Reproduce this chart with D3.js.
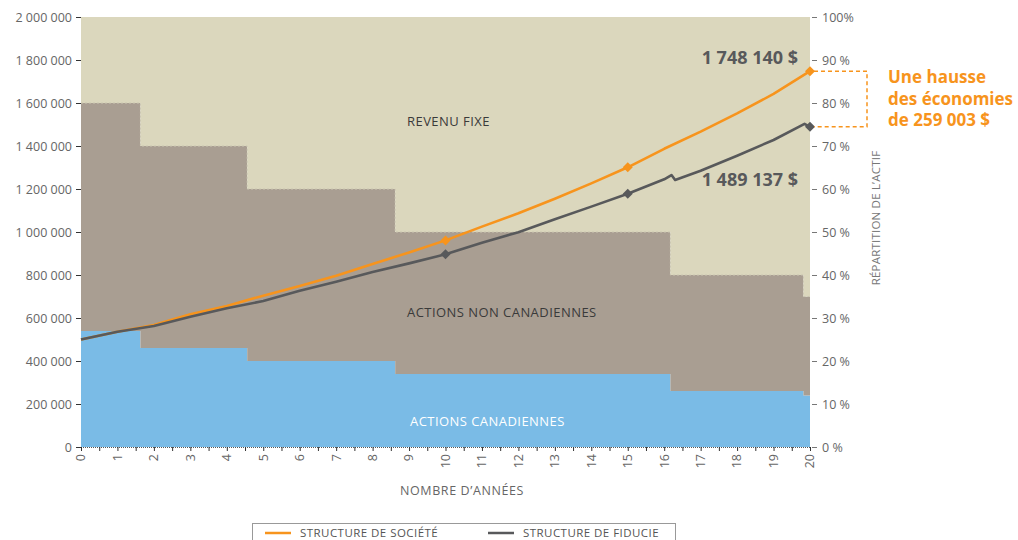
<!DOCTYPE html>
<html>
<head>
<meta charset="utf-8">
<script src="https://cdn.jsdelivr.net/npm/d3@7/dist/d3.min.js"></script>
<style>
  body { margin: 0; background: #fff; }
  svg { font-family: "Open Sans", sans-serif; display: block; }
</style>
</head>
<body>
<svg width="1018" height="540"></svg>
<script>
// asset mix steps (share of portfolio, %)
const stepStart = [0, 1.63, 4.56, 8.62, 16.17, 19.82];
const canadianPct = [27, 23, 20, 17, 13, 12];
const nonCanadianPct = [53, 47, 40, 33, 27, 23];
const fixedIncomePct = [20, 30, 40, 50, 60, 65];
const areaNames = ['ACTIONS CANADIENNES', 'ACTIONS NON CANADIENNES', 'REVENU FIXE'];

// portfolio value by year, [year, $]
const societe = [
  [0, 500000], [1, 536000], [2, 567000], [3, 617000], [4, 656000], [5, 704000],
  [6, 749000], [7, 797000], [8, 851000], [9, 905000], [10, 961000], [11, 1025000],
  [12, 1087000], [13, 1155000], [14, 1226000], [15, 1301000], [16, 1387000],
  [17, 1467000], [18, 1552000], [19, 1642000], [20, 1748140]
];
const fiducie = [
  [0, 500000], [1, 536000], [2, 563000], [3, 606000], [4, 645000], [5, 679000],
  [6, 727000], [7, 769000], [8, 814000], [9, 854000], [10, 896000], [11, 950000],
  [12, 999000], [13, 1059000], [14, 1118000], [15, 1178000], [16, 1245000],
  [16.2, 1265000], [16.3, 1242000], [17, 1285000], [18, 1355000], [19, 1428000],
  [19.85, 1503000], [20, 1489137]
];
const markerYears = [10, 15, 20];

const leftTickValues = [0, 200000, 400000, 600000, 800000, 1000000, 1200000, 1400000, 1600000, 1800000, 2000000];
const leftTickLabels = ['0', '200 000', '400 000', '600 000', '800 000', '1 000 000', '1 200 000', '1 400 000', '1 600 000', '1 800 000', '2 000 000'];
const rightTickValues = [0, 10, 20, 30, 40, 50, 60, 70, 80, 90, 100];
const rightTickLabels = ['0 %', '10 %', '20 %', '30 %', '40 %', '50 %', '60 %', '70 %', '80 %', '90 %', '100%'];
const xTickYears = [0, 1, 2, 3, 4, 5, 6, 7, 8, 9, 10, 11, 12, 13, 14, 15, 16, 17, 18, 19, 20];

const endLabels = ['1 748 140 $', '1 489 137 $'];
const noteLines = ['Une hausse', 'des économies', 'de 259 003 $'];
const legendNames = ['STRUCTURE DE SOCIÉTÉ', 'STRUCTURE DE FIDUCIE'];

const orange = '#f7941d';
const grey = '#58595b';
const areaColors = ['#7abbe6', '#a99e92', '#dbd7bd'];

const svg = d3.select('svg');
const plotL = 81, plotR = 810, plotT = 17, plotB = 447;

const x = d3.scaleLinear().domain([0, 20]).range([plotL, plotR]);
const yVal = d3.scaleLinear().domain([0, 2000000]).range([plotB, plotT]);
const yPct = d3.scaleLinear().domain([0, 100]).range([plotB, plotT]);

/* stacked allocation areas */
const rows = stepStart.map((s, i) => ({
  x: s, can: canadianPct[i], non: nonCanadianPct[i], fix: fixedIncomePct[i]
}));
const last = rows[rows.length - 1];
rows.push(Object.assign({}, last, { x: 20 }));

const stack = d3.stack().keys(['can', 'non', 'fix']);
const series = stack(rows);

const area = d3.area()
    .curve(d3.curveStepAfter)
    .x(d => x(d.data.x))
    .y0(d => yPct(d[0]))
    .y1(d => yPct(d[1]));

svg.append('g')
  .selectAll('path')
  .data(series)
  .enter().append('path')
    .attr('fill', (d, i) => areaColors[i])
    .attr('d', area);

// faint dotted edge on top of the middle band
svg.append('path')
    .datum(series[1])
    .attr('fill', 'none')
    .attr('stroke', '#cbc6b1')
    .attr('stroke-width', 1)
    .attr('stroke-dasharray', '2,2')
    .attr('d', d3.line().curve(d3.curveStepAfter).x(d => x(d.data.x)).y(d => yPct(d[1])));

/* area labels */
const areaLabelPos = [[410, 426, '#fff'], [407, 317, '#3a3a3a'], [407, 126, '#3a3a3a']];
svg.append('g')
  .selectAll('text')
  .data(areaNames)
  .enter().append('text')
    .attr('x', (d, i) => areaLabelPos[i][0])
    .attr('y', (d, i) => areaLabelPos[i][1])
    .attr('fill', (d, i) => areaLabelPos[i][2])
    .attr('font-size', 13)
    .attr('letter-spacing', 0.45)
    .text(d => d);

/* axes */
const gl = svg.append('g')
    .attr('transform', `translate(${plotL},0)`)
    .call(d3.axisLeft(yVal).tickValues(leftTickValues).tickSize(5).tickPadding(4)
      .tickFormat((d, i) => leftTickLabels[i]));
gl.select('.domain').remove();
gl.selectAll('line').attr('stroke', '#333');
gl.selectAll('text').attr('fill', '#666').attr('font-size', 12.5).attr('font-family', '"Open Sans", sans-serif');

const gr = svg.append('g')
    .attr('transform', `translate(${plotR + 2},0)`)
    .call(d3.axisRight(yPct).tickValues(rightTickValues).tickSize(5).tickPadding(5)
      .tickFormat((d, i) => rightTickLabels[i]));
gr.select('.domain').remove();
gr.selectAll('line').attr('stroke', '#777');
gr.selectAll('text').attr('fill', '#666').attr('font-size', 12.5).attr('font-family', '"Open Sans", sans-serif');

// bottom axis: dotted baseline, half-year ticks, rotated year labels
svg.append('line')
    .attr('x1', plotL).attr('x2', plotR)
    .attr('y1', plotB + 0.5).attr('y2', plotB + 0.5)
    .attr('stroke', '#555').attr('stroke-dasharray', '1,1');

const gx = svg.append('g')
    .attr('transform', `translate(0,${plotB})`)
    .call(d3.axisBottom(x).tickValues(d3.range(0, 20.01, 0.5)).tickSize(4).tickFormat(''));
gx.select('.domain').remove();
gx.selectAll('line').attr('stroke', '#333');

svg.append('g')
  .selectAll('text')
  .data(xTickYears)
  .enter().append('text')
    .attr('transform', d => `translate(${x(d)},${plotB + 7}) rotate(-90)`)
    .attr('text-anchor', 'end')
    .attr('dy', '0.35em')
    .attr('fill', '#666')
    .attr('font-size', 12.5)
    .text(d => d);

svg.append('text')
    .attr('x', 462).attr('y', 495)
    .attr('text-anchor', 'middle')
    .attr('fill', '#666')
    .attr('font-size', 12.5)
    .attr('letter-spacing', 0.6)
    .text('NOMBRE D’ANNÉES');

svg.append('text')
    .attr('transform', 'translate(880,218) rotate(-90)')
    .attr('text-anchor', 'middle')
    .attr('fill', '#777')
    .attr('font-size', 11.5)
    .attr('letter-spacing', 0.2)
    .text('RÉPARTITION DE L’ACTIF');

/* value lines */
const line = d3.line().x(d => x(d[0])).y(d => yVal(d[1]));
[[societe, orange], [fiducie, grey]].forEach(([data, col]) => {
  svg.append('path')
      .datum(data)
      .attr('fill', 'none')
      .attr('stroke', col)
      .attr('stroke-width', 2.6)
      .attr('stroke-linejoin', 'round')
      .attr('d', line);
  svg.append('g')
    .selectAll('path')
    .data(data.filter(d => markerYears.includes(d[0])))
    .enter().append('path')
      .attr('transform', d => `translate(${x(d[0])},${yVal(d[1])})`)
      .attr('d', d3.symbol().type(d3.symbolDiamond2).size(64))
      .attr('fill', col);
});

/* end value labels */
const endVals = [societe[societe.length - 1][1], fiducie[fiducie.length - 1][1]];
svg.append('text')
    .attr('x', 798).attr('y', yVal(endVals[0]) - 7)
    .attr('text-anchor', 'end')
    .attr('fill', '#58595b')
    .attr('font-size', 18).attr('font-weight', 'bold')
    .text(endLabels[0]);
svg.append('text')
    .attr('x', 798).attr('y', yVal(endVals[1]) + 59)
    .attr('text-anchor', 'end')
    .attr('fill', '#58595b')
    .attr('font-size', 18).attr('font-weight', 'bold')
    .text(endLabels[1]);

/* difference bracket and note */
const y1 = yVal(endVals[0]), y2 = yVal(endVals[1]);
svg.append('path')
    .attr('d', `M${plotR + 4},${y1}H867V${y2}H${plotR + 4}`)
    .attr('fill', 'none')
    .attr('stroke', orange)
    .attr('stroke-width', 1.5)
    .attr('stroke-dasharray', '4,3');

svg.append('g')
  .selectAll('text')
  .data(noteLines)
  .enter().append('text')
    .attr('x', 888)
    .attr('y', (d, i) => 83 + i * 21.5)
    .attr('fill', orange)
    .attr('font-size', 17).attr('font-weight', 'bold')
    .text(d => d);

/* legend */
const lg = svg.append('g');
lg.append('rect')
    .attr('x', 252.5).attr('y', 523.5)
    .attr('width', 423).attr('height', 30)
    .attr('fill', 'none').attr('stroke', '#999');
const legendX = [265, 488];
[orange, grey].forEach((col, i) => {
  lg.append('line')
      .attr('x1', legendX[i]).attr('x2', legendX[i] + 26)
      .attr('y1', 533).attr('y2', 533)
      .attr('stroke', col).attr('stroke-width', 2.5);
  lg.append('text')
      .attr('x', legendX[i] + 35).attr('y', 537)
      .attr('fill', '#555')
      .attr('font-size', 11.5)
      .attr('letter-spacing', 0.45)
      .text(legendNames[i]);
});
</script>
</body>
</html>
